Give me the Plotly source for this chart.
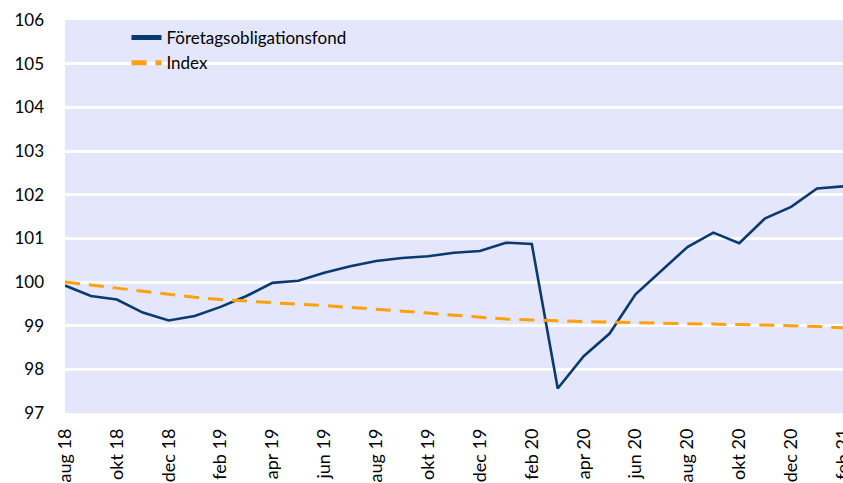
import plotly.graph_objects as go

# Monthly labels, aug 2018 - feb 2021
months = [
    "aug 18", "sep 18", "okt 18", "nov 18", "dec 18", "jan 19", "feb 19", "mar 19",
    "apr 19", "maj 19", "jun 19", "jul 19", "aug 19", "sep 19", "okt 19", "nov 19",
    "dec 19", "jan 20", "feb 20", "mar 20", "apr 20", "maj 20", "jun 20", "jul 20",
    "aug 20", "sep 20", "okt 20", "nov 20", "dec 20", "jan 21", "feb 21",
]

fund = [
    99.92, 99.68, 99.60, 99.30, 99.12, 99.22, 99.43, 99.68,
    99.98, 100.03, 100.21, 100.36, 100.48, 100.55, 100.59, 100.67,
    100.71, 100.90, 100.87, 97.56, 98.30, 98.82, 99.72, 100.25,
    100.80, 101.13, 100.89, 101.46, 101.72, 102.14, 102.19,
]

index = [
    100.00, 99.93, 99.87, 99.80, 99.72, 99.65, 99.60, 99.56,
    99.52, 99.49, 99.46, 99.42, 99.38, 99.34, 99.29, 99.24,
    99.19, 99.15, 99.13, 99.11, 99.09, 99.08, 99.07, 99.06,
    99.05, 99.04, 99.03, 99.02, 99.00, 98.98, 98.95,
]

tick_labels = months[::2]
y_ticks = list(range(97, 107))

font_family = "Lato, 'Open Sans', sans-serif"

fig = go.Figure()
fig.add_trace(go.Scatter(
    x=months, y=fund, mode="lines", name="Företagsobligationsfond",
    line=dict(color="#0B3A6E", width=2.6),
))
fig.add_trace(go.Scatter(
    x=months, y=index, mode="lines", name="Index",
    line=dict(color="#FFA10A", width=3, dash="15px,9px"),
))

fig.update_layout(
    width=843, height=483,
    margin=dict(l=65, r=0, t=20, b=70),
    paper_bgcolor="white",
    plot_bgcolor="#E4E6FB",
    font=dict(family=font_family, size=17, color="#000000"),
    showlegend=True,
    legend=dict(
        x=0.079, y=1.0, xanchor="left", yanchor="top",
        bgcolor="rgba(0,0,0,0)", font=dict(size=17),
        tracegroupgap=0, itemsizing="constant",
    ),
)
fig.update_xaxes(
    type="category", range=[0, 30],
    tickmode="array", tickvals=tick_labels, ticktext=tick_labels,
    tickangle=-90, showgrid=False, zeroline=False, showline=False,
    ticks="", ticklabelstandoff=11, automargin=False,
    tickfont=dict(size=18),
)
fig.update_yaxes(
    range=[97, 106], tickvals=y_ticks, showgrid=True,
    gridcolor="white", gridwidth=2.5, zeroline=False, showline=False,
    ticks="", ticklabelstandoff=20, automargin=False,
    tickfont=dict(size=17),
)

fig.write_html("out.html")
